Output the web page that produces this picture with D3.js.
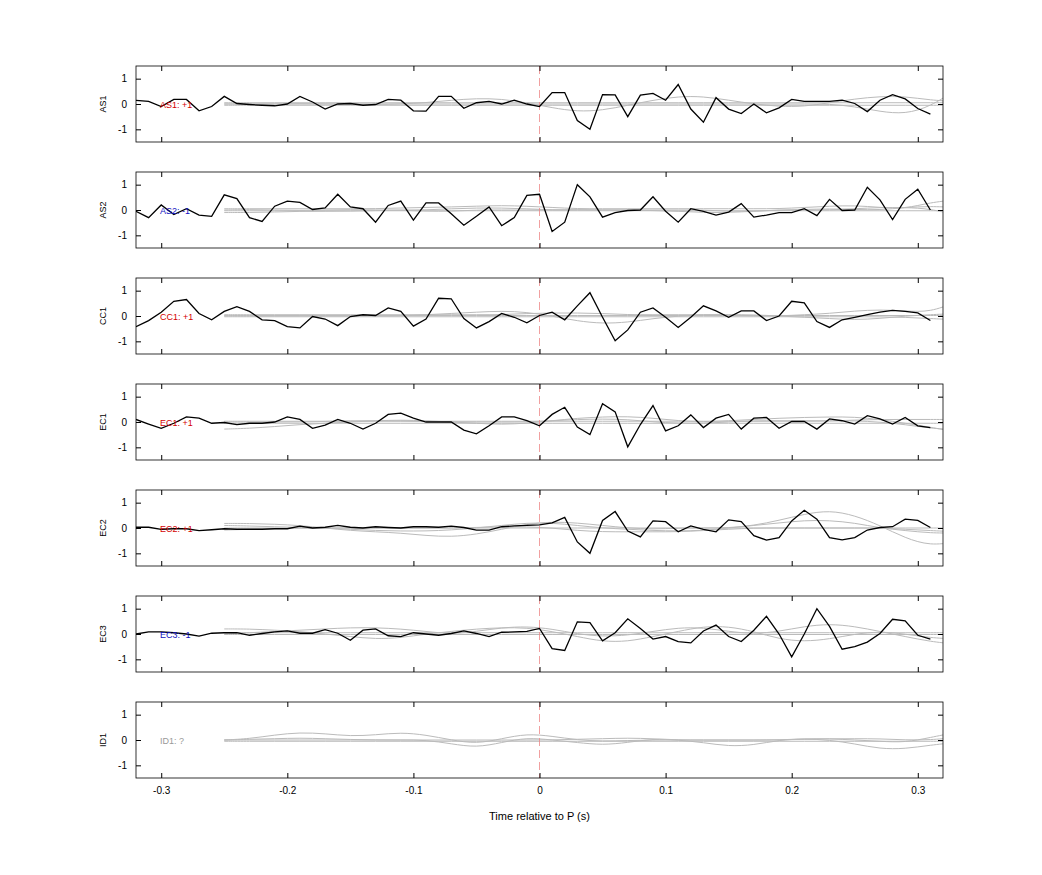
<!DOCTYPE html>
<html><head><meta charset="utf-8">
<script src="https://cdn.jsdelivr.net/npm/d3@7"></script>
<style>body{margin:0;background:#fff;font-family:"Liberation Sans",Arial,sans-serif}</style>
</head><body><svg id="c" width="1042" height="875"></svg>
<script>
const channels = ["AS1","AS2","CC1","EC1","EC2","EC3","ID1"];
const labels = ["AS1: +1","AS2: -1","CC1: +1","EC1: +1","EC2: +1","EC3: -1","ID1: ?"];
const labelColors = ["#d40000","#1010c0","#d40000","#d40000","#d40000","#1010c0","#999"];
const xTicks = [-0.3,-0.2,-0.1,0,0.1,0.2,0.3];
const yTicks = [-1,0,1];
// black traces, t = -0.32 .. 0.31 step 0.01
const AS1 = [0.14,0.1,-0.1,0.18,0.18,-0.27,-0.1,0.3,0.02,-0.02,-0.05,-0.07,0,0.3,0.08,-0.2,0,0.02,-0.05,-0.02,0.18,0.15,-0.27,-0.28,0.3,0.3,-0.17,0.05,0.1,0,0.15,0,
 -0.1,0.45,0.45,-0.65,-1,0.37,0.36,-0.5,0.35,0.42,0.15,0.77,-0.2,-0.72,0.25,-0.2,-0.38,0,-0.35,-0.15,0.18,0.1,0.1,0.1,0.15,0.02,-0.3,0.15,0.37,0.2,-0.18,-0.4];
const AS2 = [-0.05,-0.3,0.2,-0.18,0.05,-0.2,-0.25,0.6,0.45,-0.3,-0.45,0.15,0.35,0.3,0.02,0.08,0.62,0.12,0.05,-0.48,0.18,0.35,-0.4,0.28,0.28,-0.15,-0.6,-0.25,0.12,-0.62,-0.3,0.58,
 0.62,-0.85,-0.48,1,0.52,-0.28,-0.1,-0.02,0,0.52,-0.05,-0.48,0.05,-0.05,-0.2,-0.08,0.25,-0.28,-0.2,-0.1,-0.1,0.05,-0.22,0.42,-0.02,0,0.9,0.4,-0.38,0.42,0.82,0];
const CC1 = [-0.42,-0.18,0.15,0.58,0.65,0.1,-0.15,0.18,0.37,0.18,-0.15,-0.18,-0.42,-0.47,-0.02,-0.12,-0.38,-0.02,0.05,0.02,0.32,0.18,-0.4,-0.12,0.7,0.68,-0.1,-0.47,-0.22,0.1,-0.05,-0.27,
 0.02,0.15,-0.15,0.4,0.92,-0.05,-0.98,-0.55,0.15,0.32,-0.05,-0.45,-0.05,0.4,0.2,-0.05,0.2,0.2,-0.18,0,0.58,0.52,-0.22,-0.45,-0.15,-0.05,0.05,0.15,0.22,0.18,0.12,-0.18];
const EC1 = [0.1,-0.08,-0.25,-0.05,0.2,0.15,-0.05,-0.02,-0.1,-0.05,-0.05,0,0.2,0.1,-0.25,-0.12,0.1,-0.05,-0.28,-0.05,0.3,0.35,0.15,0,0,0,-0.32,-0.47,-0.15,0.2,0.2,0.05,
 -0.15,0.3,0.58,-0.2,-0.5,0.72,0.4,-0.98,-0.1,0.65,-0.35,-0.15,0.28,-0.22,0.15,0.3,-0.28,0.15,0.18,-0.25,0.02,0.02,-0.28,0.12,0.05,-0.08,0.25,0.12,-0.08,0.18,-0.15,-0.22];
const EC2 = [0.03,0.03,-0.05,-0.03,-0.03,-0.1,-0.07,-0.03,-0.05,-0.05,-0.05,-0.03,-0.03,0.07,0,0.03,0.1,0.03,0,0.05,0.02,0,0.05,0.05,0.03,0.07,0.02,-0.08,-0.08,0.05,0.08,0.1,
 0.12,0.2,0.42,-0.55,-1,0.3,0.65,-0.12,-0.35,0.28,0.25,-0.15,0.08,-0.05,-0.15,0.32,0.25,-0.3,-0.48,-0.38,0.28,0.7,0.35,-0.38,-0.47,-0.38,-0.08,0.02,0.05,0.35,0.3,0.02];
const EC3 = [0,0.08,0.08,0.05,0,-0.08,0.03,0.05,0.05,-0.05,0.02,0.08,0.12,0.03,0.03,0.17,0.03,-0.25,0.15,0.2,-0.07,-0.1,0.05,0,-0.05,0.02,0.12,0.02,-0.1,0.07,0.08,0.1,
 0.22,-0.58,-0.65,0.48,0.45,-0.27,0.05,0.6,0.22,-0.2,-0.1,-0.3,-0.35,0.12,0.35,-0.1,-0.3,0.15,0.7,0,-0.9,0,1,0.3,-0.6,-0.5,-0.32,0.02,0.58,0.52,-0.05,-0.2];
const ID1 = null;
// gray templates, t = -0.25 .. 0.33 step 0.02
const gAS1 = [
 [0,0,0,0.02,0,0,-0.02,0,0.05,0.15,0.22,0.2,0.05,-0.15,-0.3,-0.25,-0.05,0.15,0.3,0.3,0.15,0,-0.1,-0.1,0.05,0.2,0.3,0.3,0.15,0.1],
 [0,0,0,0,0,0,0,0,0,0,0,0,0,0,0,0,0,0,0,0,0,0,0,0,0,-0.1,-0.3,-0.4,-0.1,0.55],
 [0.05,0.05,0.05,0.05,0.05,0.05,0.05,0.05,0.05,0.05,0.05,0.05,0.05,0.05,0.05,0.05,0.05,0.05,0.05,0.05,0.05,0.05,0.05,0.05,0.05,0.05,0.05,0.05,0.05,0.05],
 [-0.05,-0.05,-0.05,-0.05,-0.05,-0.05,-0.05,-0.05,-0.05,-0.05,-0.05,-0.05,-0.05,-0.05,-0.05,-0.05,-0.05,-0.05,-0.05,-0.05,-0.05,-0.05,-0.05,-0.05,-0.05,-0.05,-0.05,-0.05,-0.05,-0.05]];
const gAS2 = [
 [0.05,0.05,0.05,0.05,0.05,0.05,0.05,0.08,0.1,0.12,0.15,0.18,0.15,0.1,0.05,0.05,0.05,0.05,0.05,0.05,0.05,0.05,0.05,0.1,0.15,0.18,0.1,0.05,0.3,0.4],
 [-0.1,-0.1,-0.08,-0.05,-0.05,-0.05,-0.02,0,0,0.05,0.08,0.08,0.05,0,0,0,0,-0.02,-0.05,-0.1,-0.1,-0.05,0,0,0,0.05,0.1,0.1,0.05,-0.2],
 [0,0.02,0,-0.02,0,0.02,0,0,-0.05,-0.05,0,0,0,0,0.02,0,0,0,0,0,-0.05,-0.05,0,0.02,0.05,0.02,0,0.1,0.15,0.1],
 [-0.03,-0.03,-0.03,-0.03,-0.03,-0.03,-0.03,-0.03,-0.03,-0.03,-0.03,-0.03,-0.03,-0.03,-0.03,-0.03,-0.03,-0.03,-0.03,-0.03,-0.03,-0.03,-0.03,-0.03,-0.03,-0.03,-0.03,-0.03,-0.03,-0.03]];
const gCC1 = [
 [0,0,0,0,0,0,0,0,0.05,0.1,0.15,0.2,0.15,0,-0.2,-0.3,-0.25,-0.1,0,0.05,0.05,0,0,0.05,0.1,0.2,0.25,0.2,0.15,0.55],
 [0.05,0.05,0.05,0.05,0.05,0.05,0.05,0.05,0.05,0.05,0.05,0.05,0.1,0.12,0.12,0.1,0.05,0.05,0.05,0.05,0.05,0.05,0,-0.05,-0.1,-0.15,-0.1,0,0.05,0.1],
 [-0.03,-0.03,-0.03,-0.03,-0.03,-0.03,-0.03,-0.03,-0.03,-0.03,-0.03,-0.03,-0.03,-0.03,-0.03,-0.03,-0.03,-0.03,-0.03,-0.03,-0.03,-0.03,-0.03,-0.03,-0.03,-0.03,-0.03,-0.05,-0.1,-0.15],
 [0.02,0.02,0.02,0.02,0.02,0.02,0.02,0.02,0.02,0.02,0.02,0.02,0.02,0.02,0.02,0.02,0.02,0.02,0.02,0.02,0.02,0.02,0.02,0.02,0.02,0.02,0.02,0.02,0.02,0.02]];
const gEC1 = [
 [-0.28,-0.25,-0.18,-0.1,-0.05,0,0.05,0.08,0.05,0,-0.05,-0.1,-0.05,0.05,0.15,0.2,0.22,0.15,0.05,0,0.05,0.1,0.15,0.18,0.2,0.2,0.1,-0.05,-0.2,-0.4],
 [0,0,0,0,0.02,0.05,0.05,0.05,0.02,0,0,0,0,0.05,0.1,0.12,0.1,0,-0.05,-0.05,0,0.05,0.05,0.05,0.05,0.05,0,-0.1,-0.25,-0.3],
 [-0.05,-0.05,-0.05,-0.05,-0.05,-0.05,-0.05,-0.05,-0.05,-0.05,-0.05,-0.05,-0.05,-0.05,-0.05,-0.05,-0.05,-0.05,-0.05,-0.05,-0.05,-0.05,-0.05,-0.05,-0.05,-0.05,-0.05,-0.05,-0.05,-0.05],
 [0.03,0.03,0.03,0.03,0.03,0.03,0.03,0.03,0.03,0.03,0.03,0.03,0.03,0.03,0.03,0.03,0.03,0.03,0.03,0.03,0.03,0.03,0.03,0.03,0.03,0.08,0.1,0.1,0.1,0.1]];
const gEC2 = [
 [0.18,0.18,0.15,0.1,0,-0.1,-0.15,-0.2,-0.3,-0.35,-0.25,-0.05,0.15,0.25,0.2,0.1,0,-0.05,0,0,0,0.1,0.3,0.55,0.7,0.5,0.1,-0.4,-0.7,-0.55],
 [0.1,0.08,0.05,0.02,0,-0.05,-0.1,-0.12,-0.12,-0.08,0,0.1,0.2,0.2,0.1,0,-0.05,-0.1,-0.12,-0.1,0,0.1,0.2,0.3,0.3,0.2,0,-0.1,-0.2,-0.2],
 [-0.08,-0.05,-0.03,0,0,0,0,0,0,0,0.02,0.05,0.05,0,-0.1,-0.15,-0.15,-0.15,-0.15,-0.1,-0.05,0,0,0,0,0,0,-0.05,-0.1,-0.15],
 [0,0,0,0,0,0,0,0,0,0,0,0,0,0,0,0,0,0,0,0,0,0,0,0,0,0,0,0,0,0]];
const gEC3 = [
 [0.2,0.2,0.15,0.1,0,-0.1,-0.2,-0.15,0,0.1,0.2,0.25,0.25,0.1,-0.1,-0.3,-0.3,-0.1,0.1,0.3,0.3,0.1,-0.2,-0.3,-0.2,0,0.1,0,-0.15,-0.2],
 [0,0.05,0.1,0.15,0.2,0.25,0.25,0.2,0.1,0,0.1,0.25,0.3,0.2,0,-0.1,-0.05,0.1,0.25,0.25,0.1,0,0.1,0.3,0.4,0.3,0.1,-0.1,-0.3,-0.4],
 [0.05,0.05,0.05,0.05,0.05,0.05,0.05,0.05,0.05,0.05,0.05,0.05,0.05,0.05,0.05,0.05,0.05,0.05,0.05,0.05,0.05,0.05,0.05,0.05,0.05,0.05,0.05,0.05,0.05,0.05],
 [-0.02,-0.02,-0.02,-0.02,-0.02,-0.02,-0.02,-0.02,-0.02,-0.02,-0.02,-0.02,-0.02,-0.02,-0.02,-0.02,-0.02,-0.02,-0.02,-0.02,-0.02,-0.02,-0.02,-0.02,-0.02,-0.02,-0.02,-0.02,-0.02,-0.02]];
const gID1 = [
 [0,0.05,0.2,0.3,0.25,0.15,0.2,0.3,0.2,0,-0.15,0.05,0.25,0.15,0,-0.05,-0.02,0,0,0,0,0,0,0.05,0.05,0,-0.05,-0.1,0.1,0.3],
 [0,0,0,0,0,0,0,0,0,-0.15,-0.3,-0.1,0.1,0,-0.1,-0.2,-0.1,0.05,0,-0.1,-0.25,-0.2,0,0.05,0,-0.15,-0.35,-0.35,-0.2,-0.1],
 [0,0.03,0.05,0.08,0.05,0.02,0,0,0,0,0,0,0,0,0.03,0.05,0.08,0.05,0,0,0,0,0,0.03,0.05,0.05,0.05,0,0,0.1],
 [-0.05,-0.05,-0.05,-0.05,-0.05,-0.05,-0.05,-0.05,-0.05,-0.05,-0.05,-0.05,-0.05,-0.05,-0.05,-0.05,-0.05,-0.05,-0.05,-0.05,-0.05,-0.05,-0.05,-0.05,-0.05,-0.05,-0.05,-0.05,-0.05,-0.05]];

const traces = [AS1,AS2,CC1,EC1,EC2,EC3,ID1];
const grays = [gAS1,gAS2,gCC1,gEC1,gEC2,gEC3,gID1];
const tBlack = d3.range(64).map(i => -0.32 + i*0.01);
const tGray = d3.range(30).map(i => -0.25 + i*0.02);

const svg = d3.select("#c");
const L=136, R=943, H=76, tops=[66,172,278,384,490,596,702];
const x = d3.scaleLinear().domain([-0.32,0.32]).range([L,R]);
const hy = s => s.replace("\u2212","-");
svg.append("defs").append("clipPath").attr("id","clip").append("rect").attr("x",L).attr("y",0).attr("width",R-L).attr("height",H);

channels.forEach((ch,k)=>{
  const g = svg.append("g").attr("transform",`translate(0,${tops[k]})`);
  const y = d3.scaleLinear().domain([-1.5,1.5]).range([H,0]);
  const plot = g.append("g").attr("clip-path","url(#clip)");
  const lineG = d3.line().x((d,i)=>x(tGray[i])).y(d=>y(d)).curve(d3.curveBasis);
  grays[k].forEach(arr=>plot.append("path").attr("d",lineG(arr)).attr("fill","none").attr("stroke","#bbb").attr("stroke-width",1));
  plot.append("line").attr("x1",x(0)).attr("x2",x(0)).attr("y1",0).attr("y2",H)
    .attr("stroke","#e88").attr("stroke-width",0.8).attr("stroke-dasharray","8,4");
  if(traces[k]){
    const lineB = d3.line().x((d,i)=>x(tBlack[i])).y(d=>y(d));
    plot.append("path").attr("d",lineB(traces[k])).attr("fill","none").attr("stroke","#000").attr("stroke-width",1.3);
  }
  g.append("text").attr("x",160).attr("y",y(0)+3.5).attr("font-size",9).attr("fill",labelColors[k]).text(labels[k]);
  const ax = g.append("g").attr("font-size",10).attr("color","#000");
  ax.append("g").call(d3.axisLeft(y).tickValues(yTicks).tickSize(-5).tickPadding(9).tickFormat(d=>hy(String(d))))
    .attr("transform",`translate(${L},0)`).call(s=>s.select(".domain").remove());
  ax.append("g").call(d3.axisRight(y).tickValues(yTicks).tickSize(-5).tickFormat(""))
    .attr("transform",`translate(${R},0)`).call(s=>s.select(".domain").remove());
  ax.append("g").call(d3.axisTop(x).tickValues(xTicks).tickSize(-5).tickFormat(""))
    .call(s=>s.select(".domain").remove());
  const bx = ax.append("g").attr("transform",`translate(0,${H})`).call(d3.axisBottom(x).tickValues(xTicks).tickSize(-5).tickPadding(9)
    .tickFormat(k===6?(d=>d===0?"0":hy(d3.format(".1f")(d))):""));
  bx.select(".domain").remove();
  g.append("rect").attr("x",L).attr("y",0).attr("width",R-L).attr("height",H).attr("fill","none").attr("stroke","#000").attr("stroke-width",0.8);
  g.append("text").attr("transform",`translate(106,${H/2}) rotate(-90)`).attr("text-anchor","middle").attr("font-size",9).text(ch);
});
svg.append("text").attr("x",(L+R)/2).attr("y",820).attr("text-anchor","middle").attr("font-size",11).text("Time relative to P (s)");
</script></body></html>
